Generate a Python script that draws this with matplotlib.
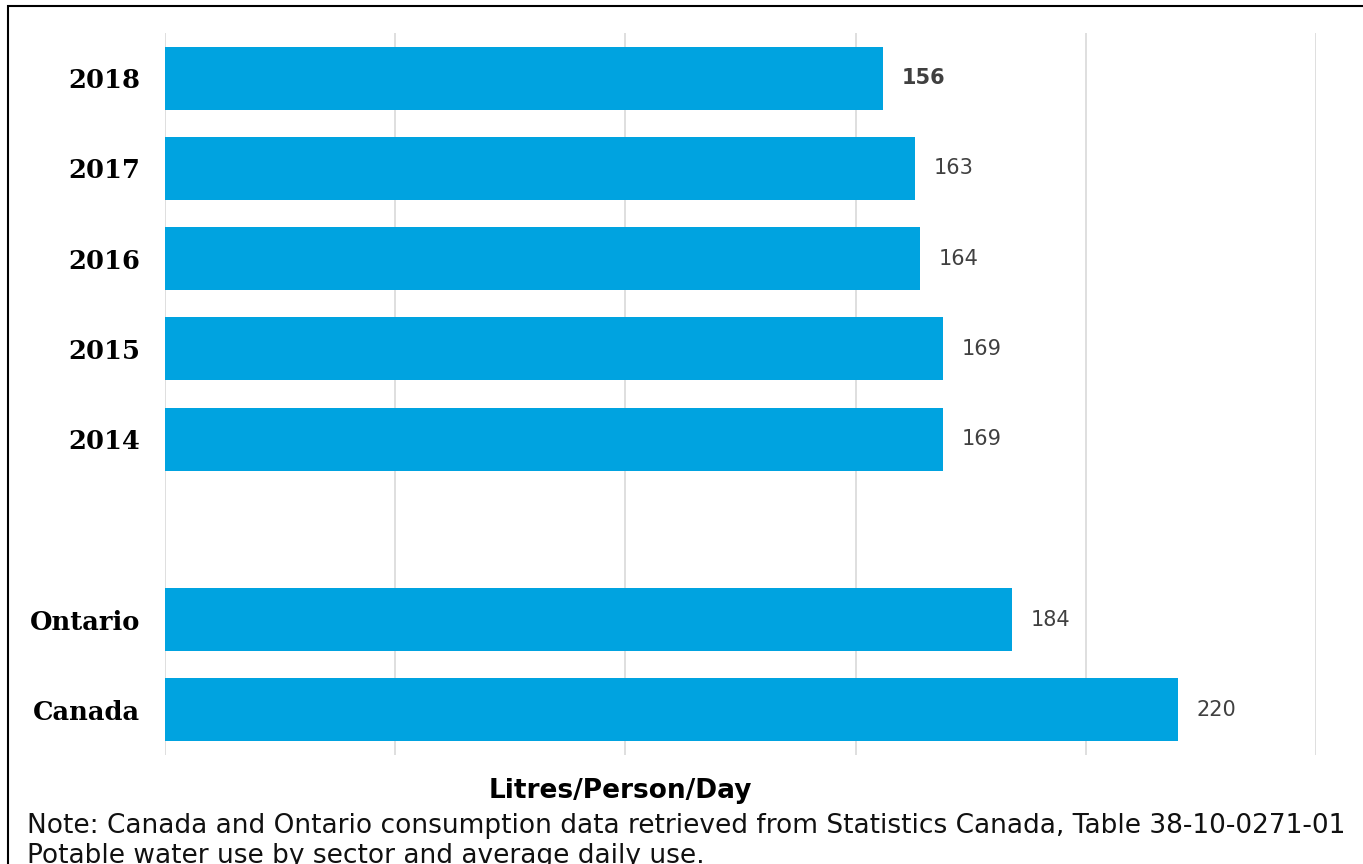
import matplotlib
matplotlib.use("Agg")
import matplotlib.pyplot as plt
from matplotlib.patches import Rectangle

labels = ["2018", "2017", "2016", "2015", "2014", "", "Ontario", "Canada"]
values = [156, 163, 164, 169, 169, None, 184, 220]
bold_value = [True, False, False, False, False, False, False, False]

bar_color = "#00a3e0"

fig = plt.figure(figsize=(13.63, 8.64), dpi=100)
ax = fig.add_axes([165 / 1363, 109 / 864, 1151 / 1363, 722 / 864])

pos = [i for i, v in enumerate(values) if v is not None]
vals = [v for v in values if v is not None]
ax.barh(pos, vals, height=0.7, color=bar_color, zorder=2)

for p, v in zip(pos, vals):
    ax.text(v + 4, p, str(v), va="center", ha="left", fontsize=15,
            color="#404040", fontweight="bold" if bold_value[p] else "normal")

ax.set_xlim(0, 250)
ax.set_ylim(len(labels) - 0.5, -0.5)
ax.set_xticks(range(0, 251, 50))
ax.set_xticklabels([])
ax.set_yticks(range(len(labels)))
ax.set_yticklabels(labels, fontsize=18.5, fontweight="bold", family="DejaVu Serif")
ax.tick_params(length=0, pad=18)
ax.grid(axis="x", color="#d9d9d9", linewidth=1.2, zorder=0)
for s in ax.spines.values():
    s.set_visible(False)

fig.text(620 / 1363, 1 - 791 / 864, "Litres/Person/Day", ha="center", va="center",
         fontsize=19, fontweight="bold")
fig.text(27 / 1363, 1 - 826 / 864, "Note: Canada and Ontario consumption data retrieved from Statistics Canada, Table 38-10-0271-01",
         ha="left", va="center", fontsize=19, color="#111111")
fig.text(27 / 1363, 1 - 856 / 864, "Potable water use by sector and average daily use.",
         ha="left", va="center", fontsize=19, color="#111111")

fig.patches.append(Rectangle((8 / 1363, -0.1), 1.2, 1.1 - 6 / 864, transform=fig.transFigure,
                             fill=False, edgecolor="black", linewidth=1.5))

fig.savefig("out.png", dpi=100)
